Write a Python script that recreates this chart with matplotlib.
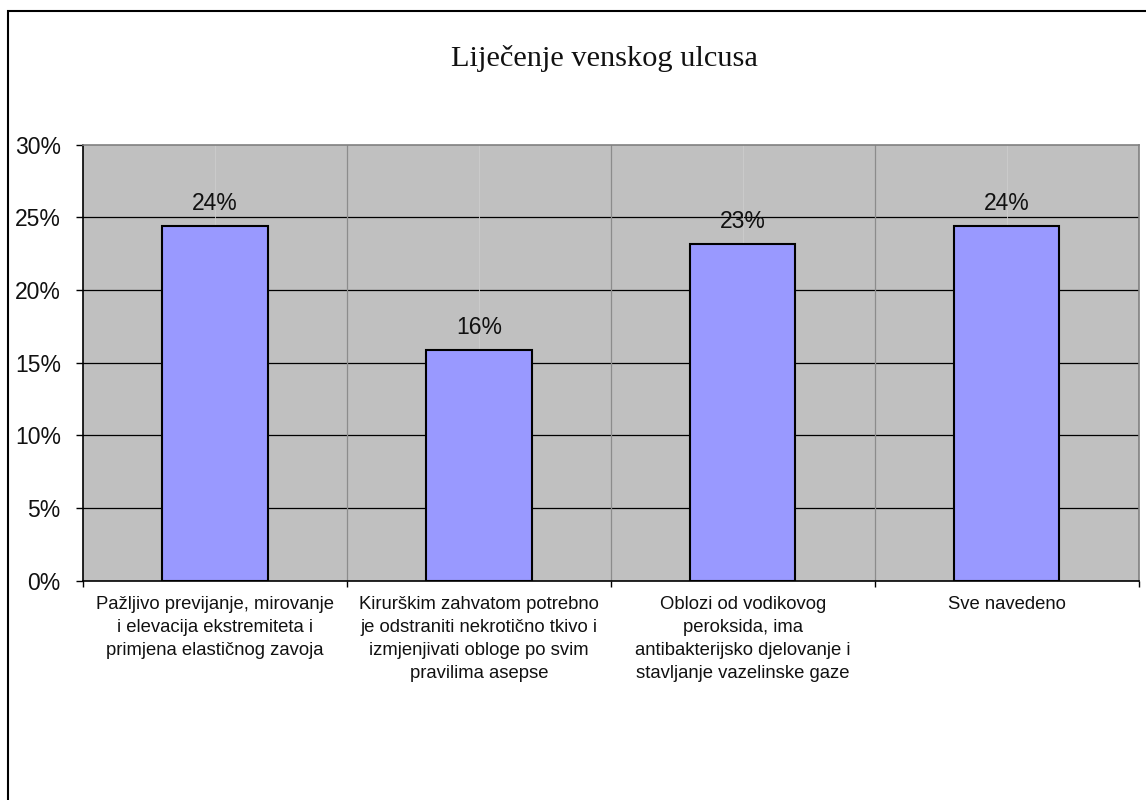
import matplotlib
matplotlib.use("Agg")
import matplotlib.pyplot as plt
from matplotlib.ticker import MultipleLocator, FuncFormatter
from matplotlib.patches import Rectangle

title = "Liječenje venskog ulcusa"
categories = [
    "Pažljivo previjanje, mirovanje\ni elevacija ekstremiteta i\nprimjena elastičnog zavoja",
    "Kirurškim zahvatom potrebno\nje odstraniti nekrotično tkivo i\nizmjenjivati obloge po svim\npravilima asepse",
    "Oblozi od vodikovog\nperoksida, ima\nantibakterijsko djelovanje i\nstavljanje vazelinske gaze",
    "Sve navedeno",
]
values = [24.4, 15.9, 23.2, 24.4]
value_labels = ["24%", "16%", "23%", "24%"]

fig = plt.figure(figsize=(11.46, 8.0), dpi=100)
fig.patch.set_facecolor("white")
# outer chart border (extends past right/bottom of image)
fig.patches.append(Rectangle((7.5 / 1146, -0.05), 1.2, (800 - 10.5) / 800 + 0.05,
                             transform=fig.transFigure, fill=False,
                             edgecolor="black", linewidth=1.5, zorder=10))

ax = fig.add_axes([83 / 1146, 1 - 580.7 / 800, (1138.5 - 83) / 1146, (580.7 - 144.7) / 800])
ax.set_facecolor("#C0C0C0")

x = list(range(len(categories)))
ax.bar(x, values, width=0.4, color="#9999FF", edgecolor="black", linewidth=1.5, zorder=3)

ax.set_xlim(-0.5, len(categories) - 0.5)
ax.set_ylim(0, 30)
ax.yaxis.set_major_locator(MultipleLocator(5))
ax.yaxis.set_major_formatter(FuncFormatter(lambda v, p: f"{v:.0f}%"))

# horizontal gridlines
for yv in range(5, 30, 5):
    ax.axhline(yv, color="black", linewidth=0.9, zorder=1)
# vertical gridlines at category boundaries
for b in [0.5, 1.5, 2.5]:
    ax.axvline(b, color="#8C8C8C", linewidth=0.9, zorder=1)
# faint lines at category centers
for c in x:
    ax.axvline(c, color="#CCCCCC", linewidth=0.6, zorder=1)

for xi, v, lab in zip(x, values, value_labels):
    ax.text(xi, v + 0.75, lab, ha="center", va="bottom", fontsize=16.5,
            family="Liberation Sans", color="#111111", zorder=4)

ax.set_xticks(x)
ax.set_xticklabels(categories, fontsize=13.3, family="Liberation Sans",
                   linespacing=1.45, ha="center", va="top", color="#111111")
ax.tick_params(axis="x", length=0, pad=11)
ax.set_xticks([-0.5, 0.5, 1.5, 2.5, 3.5], minor=True)
ax.tick_params(axis="x", which="minor", length=4.5, width=1, direction="out", color="black")
ax.tick_params(axis="y", length=5, width=1, direction="out", color="black",
               labelsize=16.5, pad=11, labelcolor="#111111")
for t in ax.get_yticklabels():
    t.set_family("Liberation Sans")

for s in ["top", "right"]:
    ax.spines[s].set_color("#808080")
    ax.spines[s].set_linewidth(1.2)
for s in ["left", "bottom"]:
    ax.spines[s].set_color("black")
    ax.spines[s].set_linewidth(1.2)

fig.text(604 / 1146, 1 - 58 / 800, title, ha="center", va="center",
         fontsize=21.9, family="Liberation Serif", color="#111111")

fig.savefig("out.png", dpi=100)
